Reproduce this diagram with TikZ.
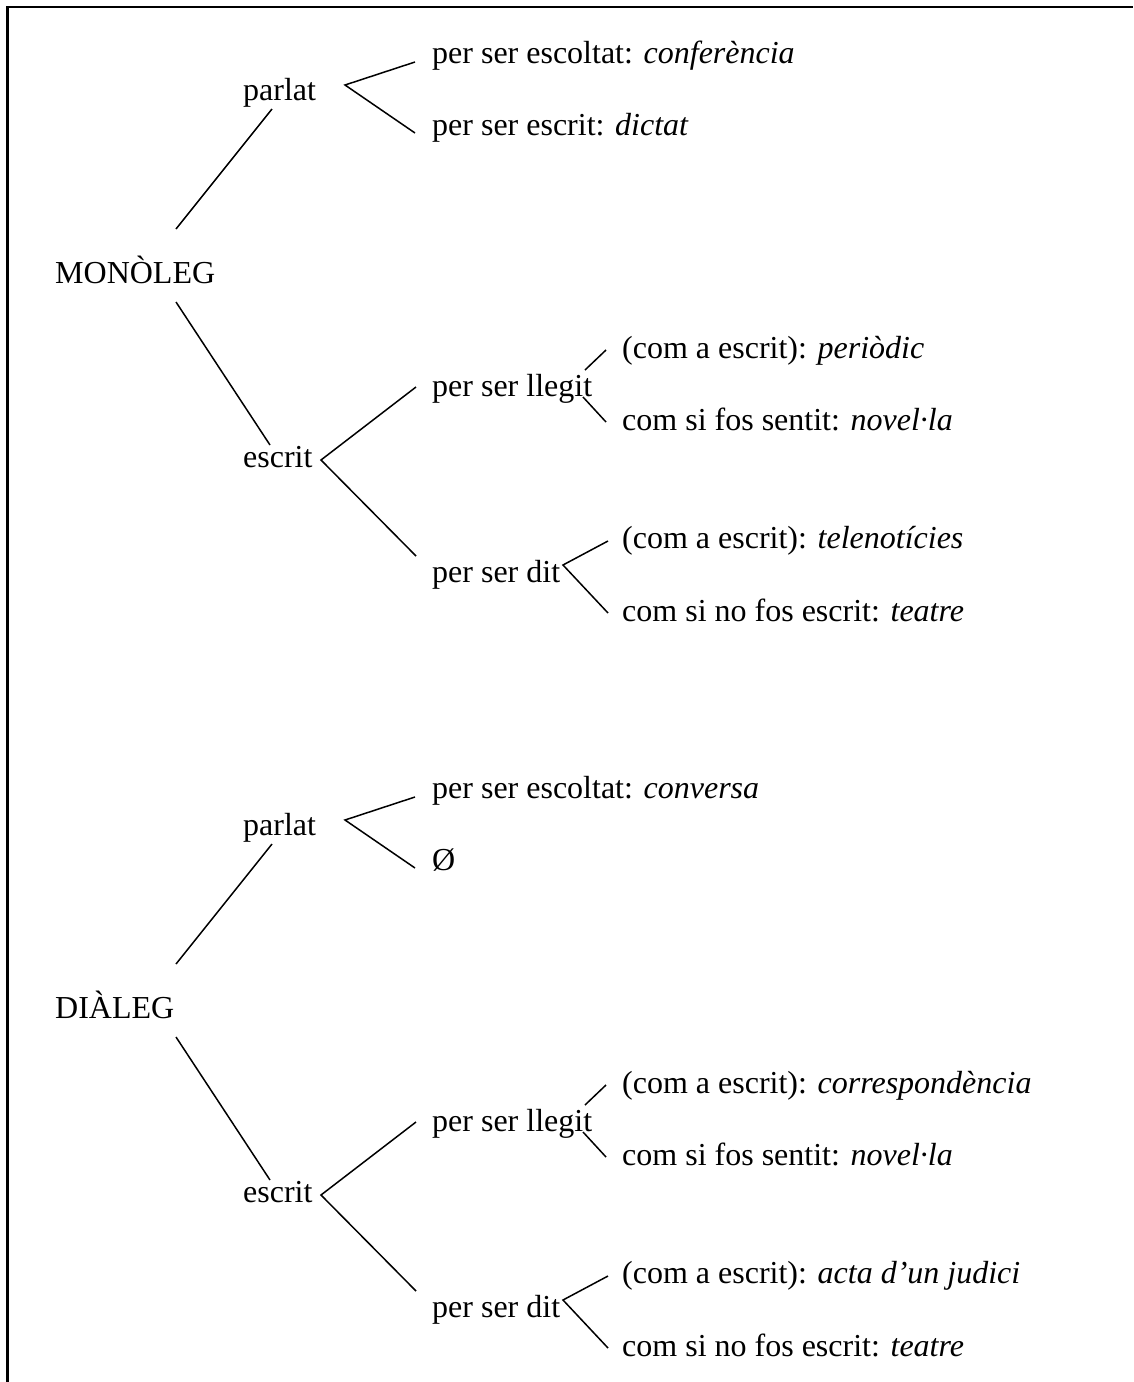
\documentclass[tikz,border=0pt]{standalone}
\usepackage{fontspec}
\setmainfont{Liberation Serif}
\usetikzlibrary{positioning}

\begin{document}
\begin{tikzpicture}[x=1pt,y=-1pt,font=\fontsize{32}{38}\selectfont,
 lbl/.style={anchor=base west,inner sep=0pt},
 branch/.style={line width=1.5pt,line join=miter},
 frame/.style={line width=2.4pt}]
\useasboundingbox (0,0) rectangle (1133,1382);
\draw[frame] (7.5,1382) -- (7.5,6.7) -- (1133,6.7);
% monoleg
\node[lbl] (mono) at (55,283) {MONÒLEG};
\node[lbl] (mparlat) at (243,100) {parlat};
\node[lbl] (mconf) at (432,63) {per ser escoltat: \textit{conferència}};
\node[lbl] (mdict) at (432,135) {per ser escrit: \textit{dictat}};
\node[lbl] (mescrit) at (243,467) {escrit};
\node[lbl] (mllegit) at (432,396) {per ser llegit};
\node[lbl] (mperi) at (622,358) {(com a escrit): \textit{periòdic}};
\node[lbl] (mnovel) at (622,430) {com si fos sentit: \textit{novel·la}};
\node[lbl] (mdit) at (432,582) {per ser dit};
\node[lbl] (mtele) at (622,548) {(com a escrit): \textit{telenotícies}};
\node[lbl] (mteatre) at (622,621) {com si no fos escrit: \textit{teatre}};
\draw[branch] ([shift={(29pt,-9pt)}]mparlat.base west) -- ([shift={(121pt,54pt)}]mono.base west);
\draw[branch] ([shift={(121pt,-19pt)}]mono.base west) -- ([shift={(27pt,22pt)}]mescrit.base west);
\draw[branch] ([shift={(-17pt,1pt)}]mconf.base west) -- ([shift={(102pt,15pt)}]mparlat.base west) -- ([shift={(-17pt,2pt)}]mdict.base west);
\draw[branch] ([shift={(-16pt,9pt)}]mllegit.base west) -- ([shift={(78pt,7pt)}]mescrit.base west) -- ([shift={(-16pt,26pt)}]mdit.base west);
\draw[branch] ([shift={(153pt,26pt)}]mllegit.base west) -- ([shift={(-16pt,8pt)}]mperi.base west);
\draw[branch] ([shift={(151pt,-1pt)}]mllegit.base west) -- ([shift={(-16pt,8pt)}]mnovel.base west);
\draw[branch] ([shift={(-14pt,7pt)}]mtele.base west) -- ([shift={(131pt,17pt)}]mdit.base west) -- ([shift={(-14pt,8pt)}]mteatre.base west);
% dialeg
\node[lbl] (dia) at (55,1018) {DIÀLEG};
\node[lbl] (dparlat) at (243,835) {parlat};
\node[lbl] (dconv) at (432,798) {per ser escoltat: \textit{conversa}};
\node[lbl] (dbuit) at (432,870) {Ø};
\node[lbl] (descrit) at (243,1202) {escrit};
\node[lbl] (dllegit) at (432,1131) {per ser llegit};
\node[lbl] (dcorr) at (622,1093) {(com a escrit): \textit{correspondència}};
\node[lbl] (dnovel) at (622,1165) {com si fos sentit: \textit{novel·la}};
\node[lbl] (ddit) at (432,1317) {per ser dit};
\node[lbl] (dacta) at (622,1283) {(com a escrit): \textit{acta d’un judici}};
\node[lbl] (dteatre) at (622,1356) {com si no fos escrit: \textit{teatre}};
\draw[branch] ([shift={(29pt,-9pt)}]dparlat.base west) -- ([shift={(121pt,54pt)}]dia.base west);
\draw[branch] ([shift={(121pt,-19pt)}]dia.base west) -- ([shift={(27pt,22pt)}]descrit.base west);
\draw[branch] ([shift={(-17pt,1pt)}]dconv.base west) -- ([shift={(102pt,15pt)}]dparlat.base west) -- ([shift={(-17pt,2pt)}]dbuit.base west);
\draw[branch] ([shift={(-16pt,9pt)}]dllegit.base west) -- ([shift={(78pt,7pt)}]descrit.base west) -- ([shift={(-16pt,26pt)}]ddit.base west);
\draw[branch] ([shift={(153pt,26pt)}]dllegit.base west) -- ([shift={(-16pt,8pt)}]dcorr.base west);
\draw[branch] ([shift={(151pt,-1pt)}]dllegit.base west) -- ([shift={(-16pt,8pt)}]dnovel.base west);
\draw[branch] ([shift={(-14pt,7pt)}]dacta.base west) -- ([shift={(131pt,17pt)}]ddit.base west) -- ([shift={(-14pt,8pt)}]dteatre.base west);
\end{tikzpicture}
\end{document}
